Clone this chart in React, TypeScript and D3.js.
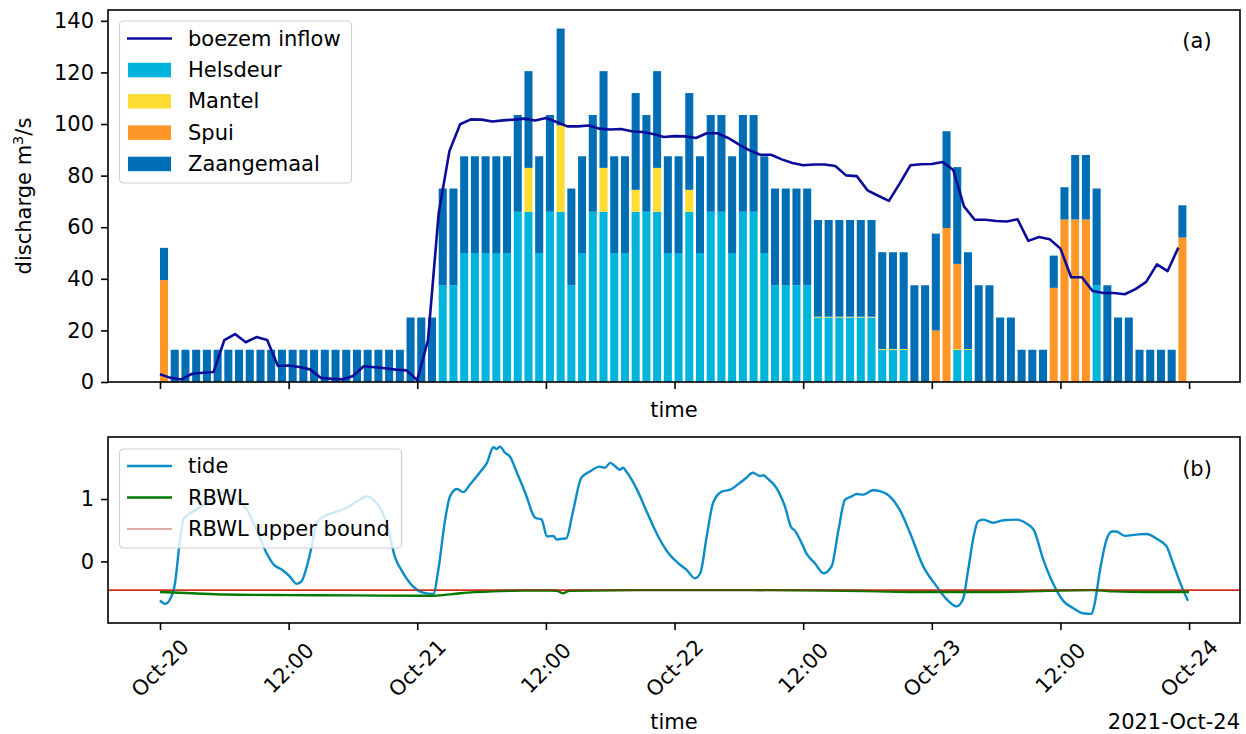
import React, { useEffect, useRef } from 'react';
import * as d3 from 'd3';

// hourly values, Oct-20 00:00 .. Oct-23 23:00
const helsdeur = [
  0, 0, 0, 0, 0, 0, 0, 0, 0, 0, 0, 0, 0, 0, 0, 0, 0, 0, 0, 0, 0, 0, 0, 0, 0, 0,
  37.5, 37.5, 50, 50, 50, 50, 50,
  66, 66, 50, 66, 66, 37.5, 50, 66, 66, 50, 50, 66, 66, 66, 50, 50, 66, 50, 66, 66, 50, 66, 66, 50,
  37.5, 37.5, 37.5, 37.5, 25, 25, 25, 25, 25, 25, 12.5, 12.5, 12.5,
  0, 0, 0, 0, 12.5, 12.5, 0, 0, 0, 0, 0, 0, 0, 0, 0, 0, 0, 37.5, 0, 0, 0, 0, 0, 0, 0, 0,
];
const mantel = [
  0, 0, 0, 0, 0, 0, 0, 0, 0, 0, 0, 0, 0, 0, 0, 0, 0, 0, 0, 0, 0, 0, 0, 0, 0, 0,
  0, 0, 0, 0, 0, 0, 0,
  0, 17, 0, 0, 33.5, 0, 0, 0, 17, 0, 0, 8.5, 0, 17, 0, 0, 8.5, 0, 0, 0, 0, 0, 0, 0,
  0, 0, 0, 0, 0.3, 0.3, 0.3, 0.3, 0.3, 0.3, 0.3, 0.3, 0.3,
  0, 0, 0, 0, 0.3, 0.3, 0, 0, 0, 0, 0, 0, 0, 0, 0, 0, 0, 0, 0, 0, 0, 0, 0, 0, 0, 0,
];
const spui = [
  39.5, 0, 0, 0, 0, 0, 0, 0, 0, 0, 0, 0, 0, 0, 0, 0, 0, 0, 0, 0, 0, 0, 0, 0, 0, 0,
  0, 0, 0, 0, 0, 0, 0,
  0, 0, 0, 0, 0, 0, 0, 0, 0, 0, 0, 0, 0, 0, 0, 0, 0, 0, 0, 0, 0, 0, 0, 0,
  0, 0, 0, 0, 0, 0, 0, 0, 0, 0, 0, 0, 0,
  0, 0, 20, 59.7, 33, 0, 0, 0, 0, 0, 0, 0, 0, 36.5, 63, 63, 63, 0, 0, 0, 0, 0, 0, 0, 0, 56,
];
const zaangemaal = [
  12.5, 12.5, 12.5, 12.5, 12.5, 12.5, 12.5, 12.5, 12.5, 12.5, 12.5, 12.5, 12.5, 12.5, 12.5, 12.5,
  12.5, 12.5, 12.5, 12.5, 12.5, 12.5, 12.5, 25, 25, 25,
  37.5, 37.5, 37.5, 37.5, 37.5, 37.5, 37.5,
  37.5, 37.5, 37.5, 37.5, 37.5, 37.5, 37.5, 37.5, 37.5, 37.5, 37.5, 37.5, 37.5, 37.5, 37.5, 37.5,
  37.5, 37.5, 37.5, 37.5, 37.5, 37.5, 37.5, 37.5,
  37.5, 37.5, 37.5, 37.5, 37.5, 37.5, 37.5, 37.5, 37.5, 37.5, 37.5, 37.5, 37.5,
  37.5, 37.5, 37.5, 37.5, 37.5, 37.5, 37.5, 37.5, 25, 25, 12.5, 12.5, 12.5, 12.5, 12.5, 25, 25,
  37.5, 37.5, 25, 25, 12.5, 12.5, 12.5, 12.5, 12.5,
];
const inflow = [
  3.0, 1.6, 1.0, 3.2, 3.6, 3.9, 16.2, 18.6, 15.4, 17.4,
  16.3, 6.2, 6.4, 5.8, 4.9, 1.6, 1.2, 1.0, 2.3, 6.1,
  5.7, 5.3, 4.8, 4.5, 0.7, 16.2, 65.5, 89.5, 99.9, 101.8,
  101.7, 101.0, 101.4, 101.7, 102.1, 101.4, 102.3, 100.8, 99.1, 99.1,
  99.4, 98.2, 97.9, 98.1, 97.2, 96.9, 96.1, 95.0, 95.3, 95.2,
  94.6, 96.4, 96.4, 94.6, 92.1, 89.8, 88.1, 88.1, 86.3, 84.9,
  84.0, 84.3, 84.3, 83.7, 80.1, 79.8, 74.3, 72.2, 70.2, 76.9,
  84.0, 84.4, 84.5, 85.3, 82.2, 68.1, 62.9, 62.9, 62.4, 62.2,
  63.1, 54.7, 56.2, 55.3, 51.7, 40.6, 40.6, 35.3, 34.5, 34.5,
  34.0, 36.0, 38.8, 45.6, 43.0, 52.1,
];

// tide, hours since Oct-20 00:00
const tideHours = [
  0, 0.47, 0.93, 1.4, 1.87, 2.18, 2.64, 3.4, 4.35, 5.13, 5.75, 6.3, 7.0, 8.1, 9.0, 9.95, 10.6, 11.35,
  12.1, 12.75, 13.2, 13.7, 14.15, 14.6, 15.1, 16.2, 17.4, 18.35, 19.3, 19.9, 20.7, 21.15, 21.9, 22.7,
  23.6, 24.55, 25.5, 25.97, 26.6, 27.05, 27.7, 28.3, 28.9, 29.85, 30.5, 31.1, 31.4, 31.7, 32.2, 32.65,
  33.3, 34.2, 34.8, 35.0, 35.6, 36.1, 36.7, 37.0, 37.3, 37.9, 38.5, 39.3, 40.1, 41.0, 41.5, 42.0, 42.5,
  42.9, 43.2, 43.5, 44.5, 45.4, 46.3, 47.4, 48.35, 49.1, 49.9, 50.4, 51.0, 51.6, 52.4, 53.2, 54.1,
  54.7, 55.3, 55.95, 56.3, 56.6, 57.5, 58.3, 58.9, 59.2, 59.7, 60.3, 61.1, 61.9, 62.65, 63.3, 63.9,
  64.5, 65.0, 65.6, 66.5, 67.3, 68.1, 69.0, 69.96, 71.2, 72.45, 73.4, 74.3, 74.9, 75.4, 75.9, 76.3,
  76.8, 77.7, 78.7, 79.9, 80.9, 81.5, 82.4, 83.3, 84.3, 85.2, 86.1, 86.9, 87.2, 87.7, 88.3, 88.8, 89.2,
  90.0, 91.1, 92.0, 93.1, 93.9, 94.5, 95.3, 95.9,
];
const tideLevels = [
  -0.625, -0.68, -0.61, -0.35, 0.35, 0.67, 0.75, 0.83, 0.94, 1.04, 1.1, 1.08, 1.0, 0.83, 0.51, 0.13, -0.05, -0.13,
  -0.24, -0.36, -0.32, -0.08, 0.24, 0.61, 0.7, 0.78, 0.86, 0.96, 1.04, 0.99, 0.8, 0.62, 0.08, -0.19,
  -0.4, -0.5, -0.52, -0.13, 0.67, 1.04, 1.16, 1.11, 1.23, 1.43, 1.58, 1.83, 1.8, 1.84, 1.74, 1.68,
  1.42, 1.04, 0.75, 0.7, 0.67, 0.4, 0.41, 0.35, 0.36, 0.37, 0.78, 1.34, 1.44, 1.52, 1.5, 1.58, 1.52,
  1.47, 1.5, 1.44, 1.15, 0.8, 0.46, 0.14, -0.03, -0.13, -0.27, -0.19, 0.4, 0.94, 1.12, 1.15, 1.26,
  1.34, 1.42, 1.37, 1.38, 1.34, 1.18, 0.88, 0.54, 0.5, 0.35, 0.13, -0.03, -0.19, -0.08, 0.51, 0.99,
  1.04, 1.08, 1.07, 1.14, 1.12, 1.04, 0.83, 0.46, -0.08, -0.4, -0.61, -0.72, -0.61, -0.13, 0.4, 0.64,
  0.67, 0.62, 0.66, 0.67, 0.6, 0.51, 0.03, -0.35, -0.64, -0.75, -0.83, -0.84, -0.67, -0.13, 0.35, 0.48, 0.48,
  0.41, 0.43, 0.44, 0.35, 0.24, -0.03, -0.4, -0.63,
];

const rbwlHours = [0, 3, 6, 12, 18, 24, 25.5, 28, 31, 34, 36.5, 37.0, 37.6, 38.2, 45, 55, 62, 67, 70, 73, 78, 82, 84, 87, 89, 92, 96];
const rbwlLevels = [-0.49, -0.51, -0.53, -0.54, -0.545, -0.55, -0.55, -0.51, -0.48, -0.465, -0.465, -0.47, -0.51, -0.47, -0.46, -0.46, -0.465, -0.48, -0.49, -0.49, -0.49, -0.475, -0.465, -0.46, -0.48, -0.49, -0.49];
const rbwlUpper = -0.46;

const seriesKeys = ['Helsdeur', 'Mantel', 'Spui', 'Zaangemaal'];
const seriesColors: Record<string, string> = {
  Helsdeur: '#00b4dc',
  Mantel: '#ffdc32',
  Spui: '#ff9628',
  Zaangemaal: '#006eb4',
};

const start = new Date(2021, 9, 20, 0, 0, 0);
const at = (h: number) => new Date(start.getTime() + h * 3600 * 1000);

export default function App() {
  const svgRef = useRef<SVGSVGElement>(null);

  useEffect(() => {
    if (!svgRef.current) return;
    const svg = d3.select(svgRef.current);
    svg.selectAll('*').remove();

    const font = "'DejaVu Sans', sans-serif";
    const fs = 21;
    const left = 108, right = 1240;
    const topA = 10, botA = 382;
    const topB = 437, botB = 623;

    const x = d3.scaleTime().domain([at(-4.85), at(100.75)]).range([left, right]);
    const yA = d3.scaleLinear().domain([0, 144.2]).range([botA, topA]);
    const yB = d3.scaleLinear().domain([-0.987, 1.994]).range([botB, topB]);

    const rows = helsdeur.map((_, i) => ({
      hour: i,
      Helsdeur: helsdeur[i],
      Mantel: mantel[i],
      Spui: spui[i],
      Zaangemaal: zaangemaal[i],
    }));
    const stacked = d3.stack<any>().keys(seriesKeys)(rows);

    // ---- panel (a)
    const gA = svg.append('g');
    stacked.forEach(layer => {
      gA.append('g')
        .attr('fill', seriesColors[layer.key])
        .selectAll('rect')
        .data(layer.filter(d => d[1] - d[0] > 0))
        .enter().append('rect')
        .attr('x', d => x(at(d.data.hour)))
        .attr('width', d => x(at(d.data.hour + 0.75)) - x(at(d.data.hour)))
        .attr('y', d => yA(d[1]))
        .attr('height', d => Math.max(0.6, yA(d[0]) - yA(d[1])));
    });

    const inflowLine = d3.line<number>()
      .x((_, i) => x(at(i)))
      .y(d => yA(d));
    gA.append('path').datum(inflow)
      .attr('d', inflowLine)
      .attr('fill', 'none').attr('stroke', '#0c0c9a').attr('stroke-width', 2.6)
      .attr('stroke-linejoin', 'round');

    gA.append('rect').attr('x', left).attr('y', topA).attr('width', right - left).attr('height', botA - topA)
      .attr('fill', 'none').attr('stroke', '#000').attr('stroke-width', 1.6);

    const axA = gA.append('g').attr('transform', `translate(0,${botA})`)
      .call(d3.axisBottom(x).ticks(d3.timeHour.every(12)).tickSize(7).tickFormat(() => ''));
    axA.select('.domain').remove();
    axA.selectAll('line').attr('stroke', '#000').attr('stroke-width', 1.6);

    const ayA = gA.append('g').attr('transform', `translate(${left},0)`)
      .call(d3.axisLeft(yA).tickValues(d3.range(0, 141, 20)).tickSize(7).tickPadding(7));
    ayA.select('.domain').remove();
    ayA.selectAll('line').attr('stroke', '#000').attr('stroke-width', 1.6);
    ayA.selectAll('text').attr('font-family', font).attr('font-size', fs).attr('fill', '#000');

    gA.append('text').attr('x', (left + right) / 2).attr('y', 417).attr('text-anchor', 'middle')
      .attr('font-family', font).attr('font-size', fs).text('time');

    const yl = gA.append('text')
      .attr('transform', `translate(31,${(topA + botA) / 2}) rotate(-90)`)
      .attr('text-anchor', 'middle').attr('font-family', font).attr('font-size', fs);
    yl.append('tspan').text('discharge m');
    yl.append('tspan').attr('font-size', 14.5).attr('dy', -8).text('3');
    yl.append('tspan').attr('dy', 8).text('/s');

    gA.append('text').attr('x', 1197).attr('y', 48).attr('text-anchor', 'middle')
      .attr('font-family', font).attr('font-size', fs).text('(a)');

    // legend (a)
    const legA = gA.append('g');
    legA.append('rect').attr('x', 119.5).attr('y', 21).attr('width', 232).attr('height', 162).attr('rx', 4)
      .attr('fill', '#fff').attr('fill-opacity', 0.8).attr('stroke', '#d0d0d0').attr('stroke-width', 1.2);
    const legRows = ['boezem inflow', ...seriesKeys];
    legRows.forEach((name, i) => {
      const cy = 38.5 + i * 31.3;
      if (i === 0) {
        legA.append('line').attr('x1', 127).attr('x2', 172).attr('y1', cy).attr('y2', cy)
          .attr('stroke', '#0c0c9a').attr('stroke-width', 2.6);
      } else {
        legA.append('rect').attr('x', 128).attr('y', cy - 7).attr('width', 43).attr('height', 14.5)
          .attr('fill', seriesColors[name]);
      }
      legA.append('text').attr('x', 188).attr('y', cy).attr('dy', '0.35em')
        .attr('font-family', font).attr('font-size', fs).text(name);
    });

    // ---- panel (b)
    const gB = svg.append('g');
    gB.append('line').attr('x1', left).attr('x2', right).attr('y1', yB(rbwlUpper)).attr('y2', yB(rbwlUpper))
      .attr('stroke', '#cc1100').attr('stroke-width', 1.2);

    const tideLine = d3.line<number>()
      .x((_, i) => x(at(tideHours[i])))
      .y(d => yB(d))
      .curve(d3.curveMonotoneX);
    gB.append('path').datum(tideLevels).attr('d', tideLine)
      .attr('fill', 'none').attr('stroke', '#0a8cc6').attr('stroke-width', 2.4).attr('stroke-linejoin', 'round');

    const rbwlLine = d3.line<number>()
      .x((_, i) => x(at(rbwlHours[i])))
      .y(d => yB(d))
      .curve(d3.curveMonotoneX);
    gB.append('path').datum(rbwlLevels).attr('d', rbwlLine)
      .attr('fill', 'none').attr('stroke', '#007a00').attr('stroke-width', 2.4);
    gB.append('line').attr('x1', left).attr('x2', right).attr('y1', yB(rbwlUpper)).attr('y2', yB(rbwlUpper))
      .attr('stroke', '#cc1100').attr('stroke-width', 1).attr('stroke-opacity', 0.8);

    gB.append('rect').attr('x', left).attr('y', topB).attr('width', right - left).attr('height', botB - topB)
      .attr('fill', 'none').attr('stroke', '#000').attr('stroke-width', 1.6);

    const axB = gB.append('g').attr('transform', `translate(0,${botB})`)
      .call(d3.axisBottom(x).ticks(d3.timeHour.every(12)).tickSize(7).tickFormat(() => ''));
    axB.select('.domain').remove();
    axB.selectAll('line').attr('stroke', '#000').attr('stroke-width', 1.6);

    const tickTimes = d3.timeHour.every(12)!.range(at(0), at(96.1));
    const fmtDay = d3.timeFormat('%b-%d');
    const fmtHour = d3.timeFormat('%H:%M');
    gB.append('g').selectAll('text').data(tickTimes).enter().append('text')
      .attr('transform', d => `translate(${x(d)},${668}) rotate(-45)`)
      .attr('text-anchor', 'middle').attr('dy', '0.35em')
      .attr('font-family', font).attr('font-size', fs)
      .text(d => (d.getHours() === 0 ? fmtDay(d) : fmtHour(d)));

    const ayB = gB.append('g').attr('transform', `translate(${left},0)`)
      .call(d3.axisLeft(yB).tickValues([0, 1]).tickFormat(d3.format('d')).tickSize(7).tickPadding(7));
    ayB.select('.domain').remove();
    ayB.selectAll('line').attr('stroke', '#000').attr('stroke-width', 1.6);
    ayB.selectAll('text').attr('font-family', font).attr('font-size', fs).attr('fill', '#000');

    gB.append('text').attr('x', (left + right) / 2).attr('y', 729).attr('text-anchor', 'middle')
      .attr('font-family', font).attr('font-size', fs).text('time');
    gB.append('text').attr('x', right).attr('y', 729).attr('text-anchor', 'end')
      .attr('font-family', font).attr('font-size', fs).text('2021-Oct-24');

    gB.append('text').attr('x', 1197).attr('y', 476).attr('text-anchor', 'middle')
      .attr('font-family', font).attr('font-size', fs).text('(b)');

    // legend (b)
    const legB = gB.append('g');
    legB.append('rect').attr('x', 119.5).attr('y', 449).attr('width', 282).attr('height', 99).attr('rx', 4)
      .attr('fill', '#fff').attr('fill-opacity', 0.8).attr('stroke', '#d0d0d0').attr('stroke-width', 1.2);
    const legBItems = [
      { name: 'tide', color: '#0a8cc6', w: 2.4 },
      { name: 'RBWL', color: '#007a00', w: 2.4 },
      { name: 'RBWL upper bound', color: '#c85a50', w: 1.2 },
    ];
    legBItems.forEach((it, i) => {
      const cy = 466 + i * 31.5;
      legB.append('line').attr('x1', 127).attr('x2', 172).attr('y1', cy).attr('y2', cy)
        .attr('stroke', it.color).attr('stroke-width', it.w);
      legB.append('text').attr('x', 188).attr('y', cy).attr('dy', '0.35em')
        .attr('font-family', font).attr('font-size', fs).text(it.name);
    });
  }, []);

  return (
    <svg ref={svgRef} width={1246} height={734}
      style={{ position: 'absolute', left: 0, top: 0, background: '#fff' }} />
  );
}
